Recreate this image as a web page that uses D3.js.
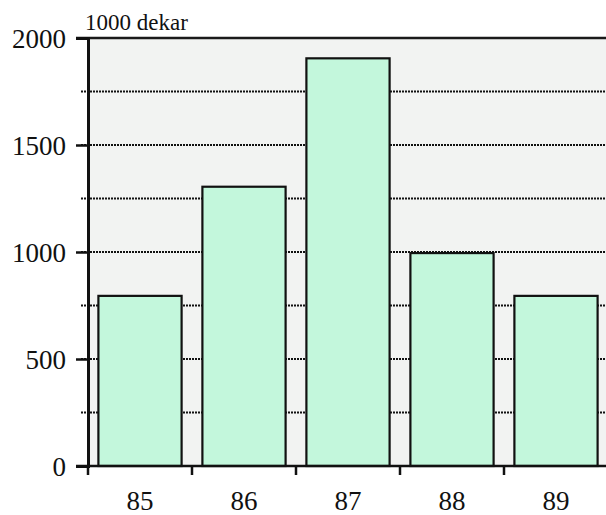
<!DOCTYPE html>
<html><head><meta charset="utf-8">
<script src="https://cdn.jsdelivr.net/npm/d3@7"></script>
<style>body{margin:0;background:#fff}svg{display:block}
text{font-family:"Liberation Serif","Tinos","Times New Roman","DejaVu Serif",serif;}</style>
</head><body>
<svg id="c" width="606" height="515"></svg>
<script>
const categories = ["85","86","87","88","89"];
const values = [795, 1305, 1905, 995, 795];
const majorTicks = [0, 500, 1000, 1500, 2000];
const gridValues = [250, 500, 750, 1000, 1250, 1500, 1750];
const unitLabel = "1000 dekar";

const svg = d3.select("#c");
const m = {left: 88, top: 38, bottom: 466, right: 608};
const x = d3.scaleBand().domain(categories).range([m.left, m.right]).paddingInner(0.2).paddingOuter(0.1);
const y = d3.scaleLinear().domain([0, 2000]).range([m.bottom, m.top]);

svg.append("rect").attr("x", m.left).attr("y", m.top).attr("width", m.right - m.left).attr("height", m.bottom - m.top).attr("fill", "#f2f3f2");

// gridlines
svg.append("g").selectAll("line").data(gridValues).join("line")
  .attr("x1", m.left - 7).attr("x2", m.right)
  .attr("y1", d => y(d)).attr("y2", d => y(d))
  .attr("stroke", "#111").attr("stroke-width", 2).attr("stroke-dasharray", "2,1");

// top line
svg.append("line").attr("x1", m.left - 12).attr("x2", m.right).attr("y1", y(2000)).attr("y2", y(2000)).attr("stroke", "#1a1a1a").attr("stroke-width", 2.5);

// bars
svg.append("g").selectAll("rect").data(values).join("rect")
  .attr("x", (d, i) => x(categories[i])).attr("width", x.bandwidth())
  .attr("y", d => y(d)).attr("height", d => y(0) - y(d))
  .attr("fill", "#c3f7dc").attr("stroke", "#111").attr("stroke-width", 2.2);

// y axis
const yAxis = d3.axisLeft(y).tickValues(majorTicks).tickSize(12).tickPadding(10).tickFormat(d3.format("d"));
const gy = svg.append("g").attr("transform", `translate(${m.left},0)`).call(yAxis);
gy.attr("font-family", null).attr("font-size", null);
gy.select(".domain").attr("stroke", "#111").attr("stroke-width", 3);
gy.selectAll(".tick line").attr("stroke", "#111").attr("stroke-width", 2.5);
gy.selectAll(".tick text").attr("font-size", 27).attr("fill", "#111").attr("dy", "0.36em");

// x axis
const xPos = d3.scaleLinear().domain([0, categories.length]).range([m.left, m.right]);
svg.append("line").attr("x1", m.left - 12).attr("x2", m.right).attr("y1", m.bottom).attr("y2", m.bottom).attr("stroke", "#111").attr("stroke-width", 2.5);
svg.append("g").selectAll("line").data(d3.range(categories.length + 1)).join("line")
  .attr("x1", d => xPos(d)).attr("x2", d => xPos(d)).attr("y1", m.bottom).attr("y2", m.bottom + 9)
  .attr("stroke", "#111").attr("stroke-width", 2.5);
svg.append("g").selectAll("text").data(categories).join("text")
  .attr("x", d => x(d) + x.bandwidth() / 2).attr("y", 510)
  .attr("text-anchor", "middle").attr("font-size", 27).attr("fill", "#111").text(d => d);

svg.append("text").attr("x", 85).attr("y", 30).attr("font-size", 23).attr("fill", "#111").text(unitLabel);
</script>
</body></html>
